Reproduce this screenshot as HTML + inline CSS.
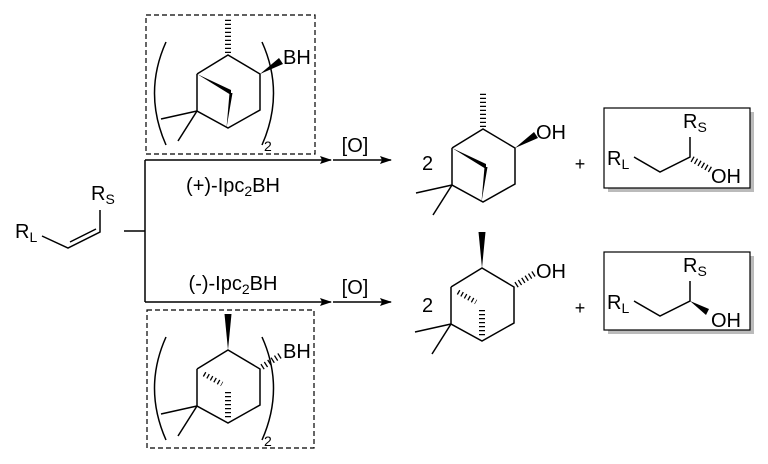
<!DOCTYPE html>
<html><head><meta charset="utf-8"><style>
html,body{margin:0;padding:0;background:#fff;}
svg{display:block;}
text{font-family:"Liberation Sans",Arial,sans-serif;fill:#000;}
</style></head><body>
<svg width="768" height="464" viewBox="0 0 768 464" xmlns="http://www.w3.org/2000/svg">
<defs>
<g id="skel" stroke="#000" stroke-width="1.5" fill="none">
  <polyline points="-31,19 0,0 32,19 32,55 0,73 -31,56 -31,19"/>
  <line x1="-31" y1="56" x2="-67" y2="64"/>
  <line x1="-31" y1="56" x2="-50" y2="86"/>
</g>
<g id="bridgeW">
  <polygon points="-31,19 3,35 3,40" fill="#000"/>
  <polygon points="3,38 0,73 6,38" fill="#000" transform="translate(-1.5,0)"/>
</g>
<g id="bridgeH" stroke="#000" fill="none">
  <line x1="-24" y1="24" x2="-6" y2="34" stroke-width="5" stroke-dasharray="1.3 2.7"/>
  <line x1="0" y1="42" x2="0" y2="70" stroke-width="6" stroke-dasharray="1.3 2.7"/>
</g>
<g id="mHash"><line x1="0" y1="-2" x2="0" y2="-36" stroke="#000" stroke-width="6" stroke-dasharray="1.3 2.7"/></g>
<g id="mWedge"><polygon points="0,0 -3.5,-36 3.5,-36" fill="#000"/></g>
<g id="sWedge"><polygon points="32,19 51,3 55,9" fill="#000"/></g>
<g id="sHash"><line x1="34" y1="17" x2="53" y2="5" stroke="#000" stroke-width="6" stroke-dasharray="1.3 2.7"/></g>
<marker id="ah" markerWidth="12" markerHeight="8" refX="11" refY="4" orient="auto" markerUnits="userSpaceOnUse">
  <polygon points="0,0 12,4 0,8 2,4" fill="#000"/>
</marker>
</defs>

<!-- starting alkene -->
<text x="15" y="238" font-size="20">R<tspan font-size="14" dy="4">L</tspan></text>
<g stroke="#000" stroke-width="1.5" fill="none">
  <polyline points="42,236 68,248 100,232 100,210"/>
  <line x1="70" y1="242" x2="96" y2="229"/>
  <line x1="124" y1="231" x2="145" y2="231"/>
  <line x1="145" y1="160" x2="145" y2="302"/>
  <line x1="145" y1="160" x2="331" y2="160" marker-end="url(#ah)"/>
  <line x1="145" y1="302" x2="331" y2="302" marker-end="url(#ah)"/>
  <line x1="333" y1="160" x2="391" y2="160" marker-end="url(#ah)"/>
  <line x1="333" y1="302" x2="391" y2="302" marker-end="url(#ah)"/>
</g>
<text x="91" y="200" font-size="20">R<tspan font-size="14" dy="4">S</tspan></text>

<text x="233" y="192" font-size="20" text-anchor="middle">(+)-Ipc<tspan font-size="14" dy="4">2</tspan><tspan dy="-4">BH</tspan></text>
<text x="233" y="290" font-size="20" text-anchor="middle">(-)-Ipc<tspan font-size="14" dy="4">2</tspan><tspan dy="-4">BH</tspan></text>
<text x="355" y="152" font-size="20" text-anchor="middle">[O]</text>
<text x="355" y="294" font-size="20" text-anchor="middle">[O]</text>

<!-- dashed boxes -->
<rect x="146" y="15" width="169" height="139" fill="none" stroke="#000" stroke-width="1.2" stroke-dasharray="5 3"/>
<rect x="147" y="310" width="167" height="138" fill="none" stroke="#000" stroke-width="1.2" stroke-dasharray="5 3"/>

<!-- top reagent -->
<g transform="translate(228,55)">
  <use href="#skel"/><use href="#bridgeW"/><use href="#mHash"/><use href="#sWedge"/>
</g>
<text x="283" y="64" font-size="20">BH</text>
<path d="M166,42 Q143,93 166,145" fill="none" stroke="#000" stroke-width="1.5"/>
<path d="M262,42 Q285,93 262,145" fill="none" stroke="#000" stroke-width="1.5"/>
<text x="264" y="151" font-size="14">2</text>

<!-- bottom reagent -->
<g transform="translate(228,350)">
  <use href="#skel"/><use href="#bridgeH"/><use href="#mWedge"/><use href="#sHash"/>
</g>
<text x="283" y="358" font-size="20">BH</text>
<path d="M166,337 Q143,388 166,440" fill="none" stroke="#000" stroke-width="1.5"/>
<path d="M262,337 Q285,388 262,440" fill="none" stroke="#000" stroke-width="1.5"/>
<text x="264" y="446" font-size="14">2</text>

<!-- top product -->
<text x="422" y="170" font-size="20">2</text>
<g transform="translate(483,129)">
  <use href="#skel"/><use href="#bridgeW"/><use href="#mHash"/><use href="#sWedge"/>
</g>
<text x="536" y="139" font-size="20">OH</text>
<text x="580" y="170" font-size="18" text-anchor="middle">+</text>

<!-- bottom product -->
<text x="422" y="312" font-size="20">2</text>
<g transform="translate(482,268)">
  <use href="#skel"/><use href="#bridgeH"/><use href="#mWedge"/><use href="#sHash"/>
</g>
<text x="536" y="278" font-size="20">OH</text>
<text x="580" y="314" font-size="18" text-anchor="middle">+</text>

<!-- top alcohol box -->
<rect x="608" y="112" width="146" height="80" fill="#bbb"/>
<rect x="604" y="108" width="146" height="80" fill="#fff" stroke="#000" stroke-width="1.2"/>
<text x="607" y="165" font-size="20">R<tspan font-size="14" dy="4">L</tspan></text>
<g stroke="#000" stroke-width="1.5" fill="none">
  <polyline points="634,157 660,172 690,157 690,137"/>
  <line x1="692" y1="159" x2="711" y2="170" stroke-width="6" stroke-dasharray="1.3 2.7"/>
</g>
<text x="683" y="128" font-size="20">R<tspan font-size="14" dy="4">S</tspan></text>
<text x="711" y="183" font-size="20">OH</text>

<!-- bottom alcohol box -->
<rect x="608" y="256" width="146" height="78" fill="#bbb"/>
<rect x="604" y="252" width="146" height="78" fill="#fff" stroke="#000" stroke-width="1.2"/>
<text x="607" y="309" font-size="20">R<tspan font-size="14" dy="4">L</tspan></text>
<g stroke="#000" stroke-width="1.5" fill="none">
  <polyline points="634,301 660,316 690,301 690,281"/>
</g>
<polygon points="690,301 709,309 706,315" fill="#000"/>
<text x="683" y="272" font-size="20">R<tspan font-size="14" dy="4">S</tspan></text>
<text x="711" y="327" font-size="20">OH</text>
</svg>
</body></html>
